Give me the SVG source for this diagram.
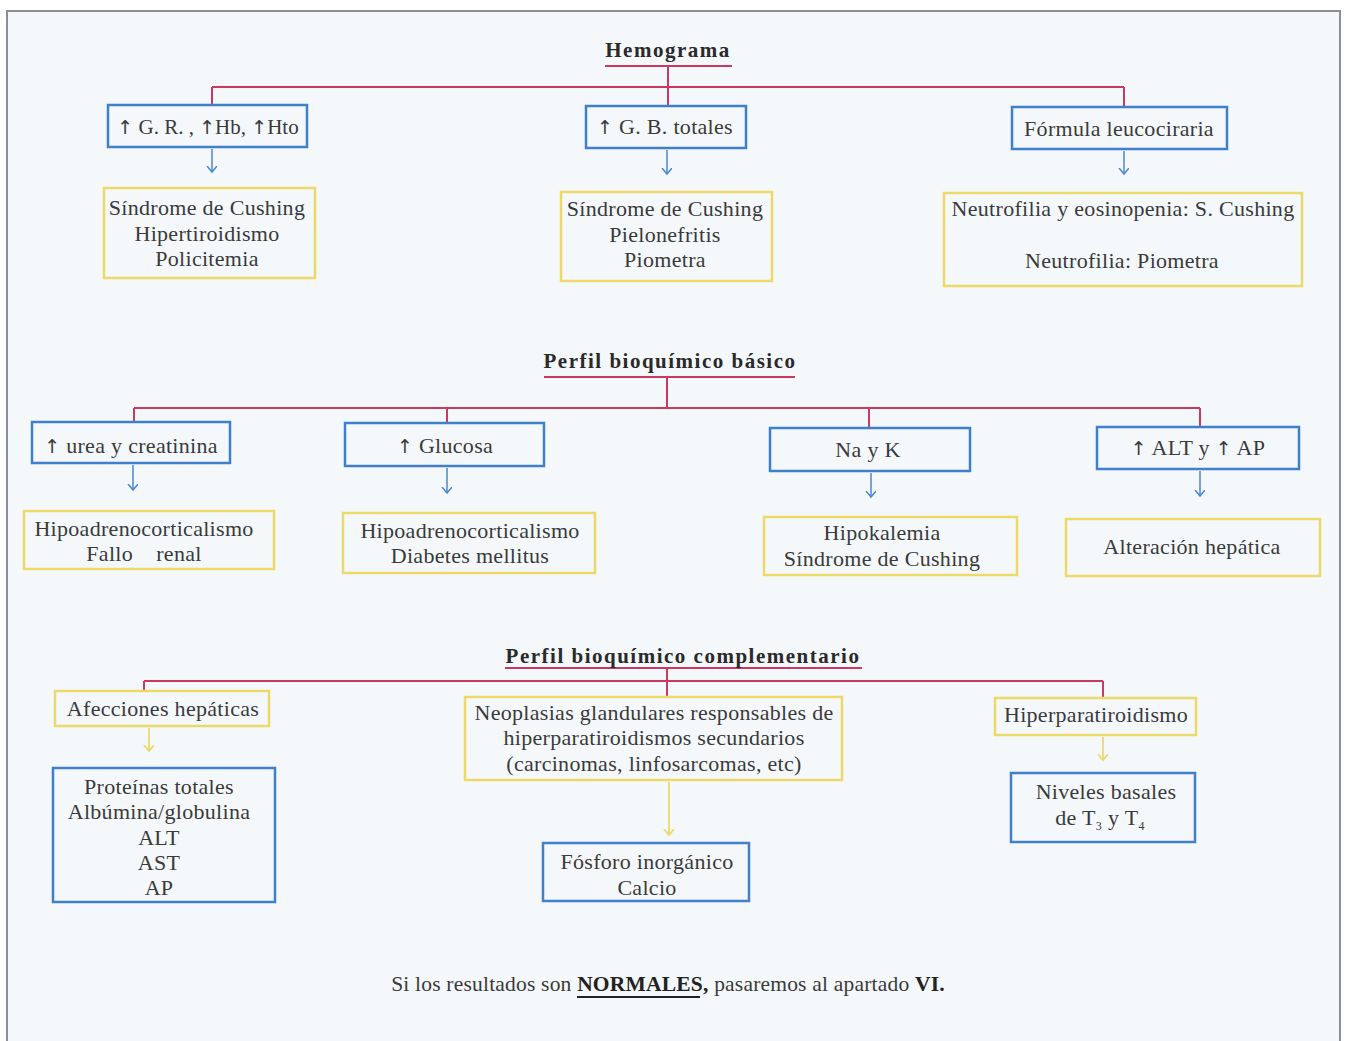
<svg xmlns="http://www.w3.org/2000/svg" width="1346" height="1041" viewBox="0 0 1346 1041">
<defs>
<style>
.bg{fill:#f4f8fb}
.frame{fill:none;stroke:#8a8f96;stroke-width:2}
.bb{fill:none;stroke:#3f7fcb;stroke-width:2.5}
.yb{fill:none;stroke:#ecd96a;stroke-width:2.5}
.red{fill:none;stroke:#c83a62;stroke-width:2}
.ab{fill:none;stroke:#4a88d0;stroke-width:1.5}
.ay{fill:none;stroke:#ecd96a;stroke-width:1.8}
text{font-family:"Liberation Serif","Times New Roman",serif;fill:#3a3a3a;font-size:22px;letter-spacing:0.3px;text-anchor:middle}
.t{font-weight:bold;font-size:21px;letter-spacing:1.5px;fill:#2a2a2a}
.pre{white-space:pre}
.foot{font-size:21.5px;letter-spacing:0.2px}
.up{font-family:"DejaVu Sans",sans-serif;font-size:19px}
.tight{font-size:21px;letter-spacing:0}
</style>
<marker id="mb" markerUnits="userSpaceOnUse" markerWidth="12" markerHeight="12" refX="6" refY="5" orient="auto"><path d="M0,0 L6,5 L0,10" fill="none" stroke="#4a88d0" stroke-width="1.5"/></marker>
<marker id="my" markerUnits="userSpaceOnUse" markerWidth="12" markerHeight="12" refX="6" refY="5" orient="auto"><path d="M0,0 L6,5 L0,10" fill="none" stroke="#ecd96a" stroke-width="1.8"/></marker>
</defs>
<rect x="0" y="0" width="1346" height="1041" fill="#ffffff"/>
<rect class="bg" x="7" y="11" width="1333" height="1040"/>
<path class="frame" d="M7,1041 V11 H1340 V1041"/>

<g id="connectors">
<path class="red" d="M605,66 H732"/>
<path class="red" d="M668,66 V105 M212,87 H1124 M212,87 V105 M1124,87 V107"/>
<path class="ab" d="M212,149 V172" marker-end="url(#mb)"/>
<path class="ab" d="M667,150 V174" marker-end="url(#mb)"/>
<path class="ab" d="M1124,151 V174" marker-end="url(#mb)"/>
<path class="red" d="M544,377 H795"/>
<path class="red" d="M667,377 V408 M134,408 H1200 M134,408 V422 M447,408 V423 M869,408 V428 M1200,408 V427"/>
<path class="ab" d="M133,465 V490" marker-end="url(#mb)"/>
<path class="ab" d="M447,468 V493" marker-end="url(#mb)"/>
<path class="ab" d="M871,473 V497" marker-end="url(#mb)"/>
<path class="ab" d="M1200,471 V496" marker-end="url(#mb)"/>
<path class="red" d="M505,668 H862"/>
<path class="red" d="M667,668 V697 M144,681 H1103 M144,681 V691 M1103,681 V698"/>
<path class="ay" d="M149,728 V751" marker-end="url(#my)"/>
<path class="ay" d="M669,782 V835" marker-end="url(#my)"/>
<path class="ay" d="M1103,737 V760" marker-end="url(#my)"/>
</g>

<g id="t-hemograma"><text class="t" x="668" y="57">Hemograma</text></g>
<g id="n-gr"><rect class="bb" x="108" y="105" width="199" height="42"/><text class="tight" x="208" y="134"><tspan class="up">↑</tspan> G. R. , <tspan class="up">↑</tspan>Hb, <tspan class="up">↑</tspan>Hto</text></g>
<g id="n-gr-r"><rect class="yb" x="104" y="188" width="211" height="90"/><text x="207" y="215">Síndrome de Cushing</text><text x="207" y="241">Hipertiroidismo</text><text x="207" y="266">Policitemia</text></g>
<g id="n-gb"><rect class="bb" x="586" y="106" width="160" height="42"/><text x="665" y="134"><tspan class="up">↑</tspan> G. B. totales</text></g>
<g id="n-gb-r"><rect class="yb" x="561" y="192" width="211" height="89"/><text x="665" y="216">Síndrome de Cushing</text><text x="665" y="242">Pielonefritis</text><text x="665" y="267">Piometra</text></g>
<g id="n-fl"><rect class="bb" x="1012" y="107" width="215" height="42"/><text x="1119" y="136">Fórmula leucociraria</text></g>
<g id="n-fl-r"><rect class="yb" x="944" y="193" width="358" height="93"/><text x="1123" y="216">Neutrofilia y eosinopenia: S. Cushing</text><text x="1122" y="268">Neutrofilia: Piometra</text></g>

<g id="t-basico"><text class="t" x="670" y="368">Perfil bioquímico básico</text></g>
<g id="n-urea"><rect class="bb" x="32" y="422" width="198" height="41"/><text x="131" y="453"><tspan class="up">↑</tspan> urea y creatinina</text></g>
<g id="n-urea-r"><rect class="yb" x="24" y="511" width="250" height="58"/><text x="144" y="536">Hipoadrenocorticalismo</text><text class="pre" x="144" y="561">Fallo    renal</text></g>
<g id="n-glu"><rect class="bb" x="345" y="423" width="199" height="43"/><text x="445" y="453"><tspan class="up">↑</tspan> Glucosa</text></g>
<g id="n-glu-r"><rect class="yb" x="343" y="513" width="252" height="60"/><text x="470" y="538">Hipoadrenocorticalismo</text><text x="470" y="563">Diabetes mellitus</text></g>
<g id="n-nak"><rect class="bb" x="770" y="428" width="200" height="43"/><text x="868" y="457">Na y K</text></g>
<g id="n-nak-r"><rect class="yb" x="764" y="517" width="253" height="58"/><text x="882" y="540">Hipokalemia</text><text x="882" y="566">Síndrome de Cushing</text></g>
<g id="n-alt"><rect class="bb" x="1097" y="427" width="202" height="42"/><text x="1198" y="455"><tspan class="up">↑</tspan> ALT y <tspan class="up">↑</tspan> AP</text></g>
<g id="n-alt-r"><rect class="yb" x="1066" y="519" width="254" height="57"/><text x="1192" y="554">Alteración hepática</text></g>

<g id="t-comp"><text class="t" x="683" y="663">Perfil bioquímico complementario</text></g>
<g id="n-afe"><rect class="yb" x="55" y="691" width="214" height="35"/><text x="163" y="716">Afecciones hepáticas</text></g>
<g id="n-afe-r"><rect class="bb" x="53" y="768" width="222" height="134"/><text x="159" y="794">Proteínas totales</text><text x="159" y="819">Albúmina/globulina</text><text x="159" y="845">ALT</text><text x="159" y="870">AST</text><text x="159" y="895">AP</text></g>
<g id="n-neo"><rect class="yb" x="465" y="697" width="377" height="83"/><text x="654" y="720">Neoplasias glandulares responsables de</text><text x="654" y="745">hiperparatiroidismos secundarios</text><text x="654" y="771">(carcinomas, linfosarcomas, etc)</text></g>
<g id="n-neo-r"><rect class="bb" x="543" y="843" width="206" height="58"/><text x="647" y="869">Fósforo inorgánico</text><text x="647" y="895">Calcio</text></g>
<g id="n-hip"><rect class="yb" x="995" y="698" width="201" height="37"/><text x="1096" y="722">Hiperparatiroidismo</text></g>
<g id="n-hip-r"><rect class="bb" x="1011" y="773" width="184" height="69"/><text x="1106" y="799">Niveles basales</text><text x="1100" y="825">de T<tspan font-size="12" dy="5">3</tspan><tspan dy="-5"> y T</tspan><tspan font-size="12" dy="5">4</tspan></text></g>

<g id="footer"><text class="foot" x="668" y="991">Si los resultados son <tspan font-weight="bold" fill="#222">NORMALES,</tspan> pasaremos al apartado <tspan font-weight="bold" fill="#222">VI.</tspan></text>
<path d="M577,997 H700" stroke="#222" stroke-width="2"/></g>
</svg>
